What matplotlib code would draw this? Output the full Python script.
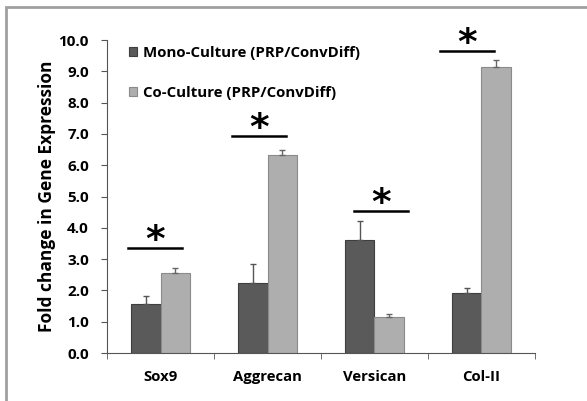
import matplotlib.pyplot as plt
from matplotlib.patches import Rectangle
import numpy as np

genes = ['Sox9', 'Aggrecan', 'Versican', 'Col-II']
mono = [1.55, 2.25, 3.60, 1.93]
mono_err = [0.28, 0.60, 0.62, 0.14]
co = [2.55, 6.33, 1.15, 9.15]
co_err = [0.18, 0.17, 0.10, 0.20]
sig_y = [3.35, 6.93, 4.55, 9.65]
sig_dx = [-0.05, -0.08, 0.06, -0.135]

plt.rcParams['font.family'] = ['Open Sans', 'DejaVu Sans']
plt.rcParams['font.weight'] = 'bold'

fig = plt.figure(figsize=(5.87, 4.01), dpi=100)
ax = fig.add_axes([0.1823, 0.1197, 0.7291, 0.7805])

x = np.arange(len(genes))
w = 0.28
ax.bar(x - w / 2, mono, w, color='#5a5a5a', edgecolor='#3e3e3e', linewidth=0.8,
       yerr=[np.zeros(4), mono_err], error_kw=dict(ecolor='#555555', elinewidth=1, capsize=2.5, capthick=1),
       label='Mono-Culture (PRP/ConvDiff)', zorder=2)
ax.bar(x + w / 2, co, w, color='#aeaeae', edgecolor='#8a8a8a', linewidth=0.8,
       yerr=[np.zeros(4), co_err], error_kw=dict(ecolor='#666666', elinewidth=1, capsize=2.5, capthick=1),
       label='Co-Culture (PRP/ConvDiff)', zorder=2)

# significance bars
for i in range(len(genes)):
    c = x[i] + sig_dx[i]
    ax.plot([c - 0.2525, c + 0.2525], [sig_y[i], sig_y[i]], color='black', lw=1.8, clip_on=False)
    ax.text(c, sig_y[i] - 0.1, '*', ha='center', va='baseline', fontsize=27,
            fontweight='bold', family='DejaVu Sans', clip_on=False)

ax.set_xlim(-0.5, 3.5)
ax.set_ylim(0, 10)
ticks = np.arange(0, 10.1, 1.0)
ax.set_yticks(ticks)
ax.set_yticklabels([f'{v:.1f}' for v in ticks], fontsize=11, fontweight='bold')
ax.set_xticks(x)
ax.set_xticklabels(genes, fontsize=10.7, fontweight='bold')
ax.set_xticks(np.arange(-0.5, 3.6, 1.0), minor=True)
ax.tick_params(axis='x', which='major', length=0, pad=12)
ax.tick_params(axis='x', which='minor', length=4, color='#555555')
ax.tick_params(axis='y', length=4, color='#555555', pad=9)
ax.spines['top'].set_visible(False)
ax.spines['right'].set_visible(False)
ax.spines['left'].set_color('#555555')
ax.spines['bottom'].set_color('#555555')
ax.set_ylabel('Fold change in Gene Expression', fontsize=12.5, fontweight='bold', labelpad=2)

ax.legend(loc='upper left', bbox_to_anchor=(0.02, 1.025), frameon=False,
          prop=dict(size=10.8, weight='bold'),
          handlelength=0.55, handleheight=0.55, handletextpad=0.4, labelspacing=1.75)

fig.patches.append(Rectangle((6 / 587, -0.05), 1.1, (401 - 7) / 401 + 0.05, transform=fig.transFigure,
                             fill=False, edgecolor='#a0a0a0', lw=2))

fig.savefig('out.png', dpi=100)
